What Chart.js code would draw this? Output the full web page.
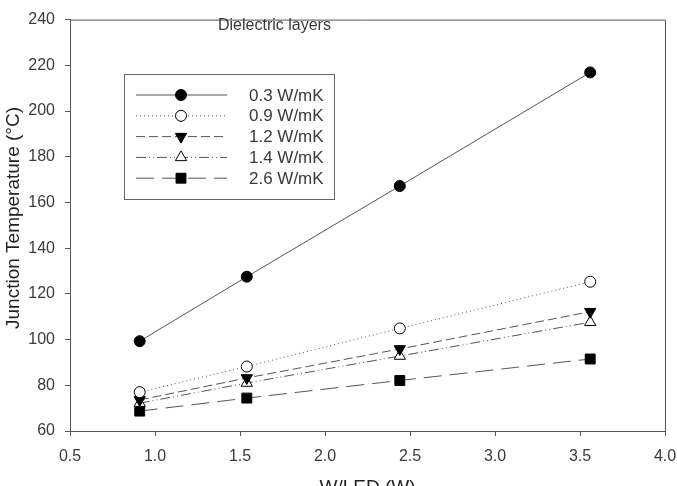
<!DOCTYPE html>
<html>
<head>
<meta charset="utf-8">
<script src="https://cdn.jsdelivr.net/npm/chart.js@4.4.1/dist/chart.umd.min.js"></script>
<style>
  html, body { margin: 0; padding: 0; background: #fff; }
  #wrap { width: 677px; height: 486px; }
</style>
</head>
<body>
<div id="wrap"><canvas id="tempChart" width="677" height="486"></canvas></div>
<script>
// W/LED (W) on x
const ledPower = [0.91, 1.54, 2.44, 3.56];

// junction temperature (°C) for each dielectric conductivity
const seriesLabels = ['0.3 W/mK', '0.9 W/mK', '1.2 W/mK', '1.4 W/mK', '2.6 W/mK'];
const temp03 = [99.3, 127.5, 167.2, 216.9];
const temp09 = [77.0, 88.2, 104.9, 125.3];
const temp12 = [73.6, 83.2, 95.9, 112.2];
const temp14 = [72.2, 81.0, 92.8, 107.6];
const temp26 = [68.7, 74.4, 82.1, 91.5];

const xTicks = [0.5, 1.0, 1.5, 2.0, 2.5, 3.0, 3.5, 4.0];
const yTicks = [60, 80, 100, 120, 140, 160, 180, 200, 220, 240];

const FONT = '"Liberation Sans", Arial, sans-serif';
const LINE = '#555';
const TEXT = '#3a3a3a';

const toPoints = vals => vals.map((v, i) => ({ x: ledPower[i], y: v }));

const styles = [
  { data: temp03, dash: [], pointStyle: 'circle', fill: '#000', rot: 0, r: 5.5 },
  { data: temp09, dash: [1, 3], pointStyle: 'circle', fill: '#fff', rot: 0, r: 5.5 },
  { data: temp12, dash: [9, 4], pointStyle: 'triangle', fill: '#000', rot: 180, r: 6.5 },
  { data: temp14, dash: [10, 3, 1, 3, 1, 3], pointStyle: 'triangle', fill: '#fff', rot: 0, r: 6.5 },
  { data: temp26, dash: [18, 8], pointStyle: 'rect', fill: '#000', rot: 0, r: 7 }
];

const datasets = styles.map((s, i) => ({
  label: seriesLabels[i],
  data: toPoints(s.data),
  showLine: true,
  borderColor: LINE,
  borderWidth: 1,
  borderDash: s.dash,
  pointStyle: s.pointStyle,
  pointRotation: s.rot,
  pointRadius: s.r,
  pointBackgroundColor: s.fill,
  pointBorderColor: '#000',
  pointBorderWidth: 1
}));

// draws one marker the same way as the points in the plot
function drawMarker(ctx, s, x, y) {
  ctx.save();
  ctx.fillStyle = s.fill;
  ctx.strokeStyle = '#000';
  ctx.lineWidth = 1;
  ctx.setLineDash([]);
  ctx.beginPath();
  if (s.pointStyle === 'circle') {
    ctx.arc(x, y, s.r, 0, Math.PI * 2);
  } else if (s.pointStyle === 'rect') {
    const h = s.r * Math.SQRT1_2;
    ctx.rect(x - h, y - h, h * 2, h * 2);
  } else {
    const a = s.rot * Math.PI / 180;
    for (let k = 0; k < 3; k++) {
      const t = a - Math.PI / 2 + k * 2 * Math.PI / 3;
      const px = x + Math.cos(t) * s.r, py = y + Math.sin(t) * s.r;
      k === 0 ? ctx.moveTo(px, py) : ctx.lineTo(px, py);
    }
    ctx.closePath();
  }
  ctx.fill();
  ctx.stroke();
  ctx.restore();
}

// frame, legend box, in-plot note and axis titles
const decorPlugin = {
  id: 'decor',
  afterDraw(chart) {
    const { ctx, chartArea: { left, right, top, bottom } } = chart;
    ctx.save();

    // top and right edges of the frame
    ctx.strokeStyle = LINE;
    ctx.lineWidth = 1;
    ctx.beginPath();
    ctx.moveTo(left, top + 0.5);
    ctx.lineTo(right + 0.5, top + 0.5);
    ctx.lineTo(right + 0.5, bottom);
    ctx.stroke();

    ctx.fillStyle = TEXT;
    ctx.font = '16px ' + FONT;
    ctx.textBaseline = 'middle';
    ctx.fillText('Dielectric layers', 218, 26);

    // legend
    ctx.strokeStyle = '#666';
    ctx.strokeRect(124.5, 74.5, 210, 125);
    styles.forEach((s, i) => {
      const y = 95 + i * 20.8;
      ctx.strokeStyle = LINE;
      ctx.setLineDash(s.dash);
      ctx.beginPath();
      ctx.moveTo(136, y);
      ctx.lineTo(227, y);
      ctx.stroke();
      ctx.setLineDash([]);
      drawMarker(ctx, s, 181, y);
      ctx.fillStyle = TEXT;
      ctx.font = '17px ' + FONT;
      ctx.textAlign = 'left';
      ctx.fillText(seriesLabels[i], 249, y + 1);
    });

    // y title
    ctx.save();
    ctx.translate(14, 218);
    ctx.rotate(-Math.PI / 2);
    ctx.fillStyle = '#222';
    ctx.font = '19px ' + FONT;
    ctx.textAlign = 'center';
    ctx.textBaseline = 'middle';
    ctx.fillText('Junction Temperature (\u00B0C)', 0, 0);
    ctx.restore();

    // x title (cut by the bottom edge)
    ctx.fillStyle = '#222';
    ctx.font = '19px ' + FONT;
    ctx.textAlign = 'center';
    ctx.textBaseline = 'top';
    ctx.fillText('W/LED (W)', (left + right) / 2, 478);

    ctx.restore();
  }
};

const chart = new Chart(document.getElementById('tempChart'), {
  type: 'scatter',
  data: { datasets },
  options: {
    responsive: false,
    animation: false,
    events: [],
    layout: { padding: { top: 10, right: 12, left: 0, bottom: 0 } },
    plugins: { legend: { display: false }, tooltip: { enabled: false } },
    scales: {
      x: {
        type: 'linear',
        min: 0.5,
        max: 4.0,
        afterBuildTicks: axis => { axis.ticks = xTicks.map(v => ({ value: v })); },
        afterFit: axis => {
          axis.height = 55;
          axis.paddingLeft = 0;
          axis.paddingRight = 0;
        },
        grid: { drawOnChartArea: false, drawTicks: true, tickLength: 5, color: LINE },
        border: { display: true, color: LINE, width: 1 },
        ticks: {
          padding: 11,
          color: TEXT,
          font: { family: FONT, size: 16 },
          callback: v => v.toFixed(1)
        }
      },
      y: {
        min: 60,
        max: 240,
        afterBuildTicks: axis => { axis.ticks = yTicks.map(v => ({ value: v })); },
        afterFit: axis => { axis.width = 70; },
        grid: { drawOnChartArea: false, drawTicks: true, tickLength: 5, color: LINE },
        border: { display: true, color: LINE, width: 1 },
        ticks: {
          padding: 10,
          color: TEXT,
          font: { family: FONT, size: 16 },
          callback: v => String(v)
        }
      }
    }
  },
  plugins: [decorPlugin]
});
</script>
</body>
</html>
